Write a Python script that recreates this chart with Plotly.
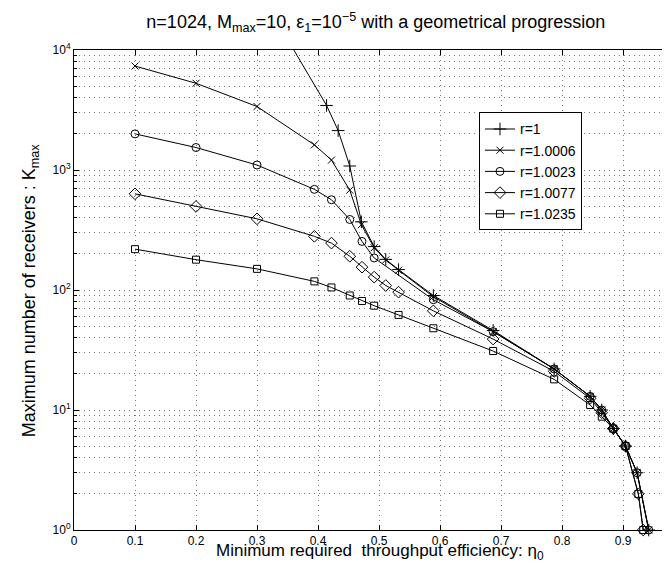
import plotly.graph_objects as go

# ---- data ----
eta_r1 = [0.30, 0.414, 0.433, 0.452, 0.471, 0.492, 0.511, 0.532, 0.589, 0.687, 0.787, 0.846, 0.865, 0.884, 0.904, 0.923, 0.942]
kmax_r1 = [33000, 3450, 2130, 1080, 370, 230, 180, 148, 90, 46, 22, 13, 10, 7, 5, 3, 1]

eta_r2 = [0.1, 0.2, 0.3, 0.394, 0.422, 0.452, 0.471, 0.492, 0.511, 0.532, 0.589, 0.687, 0.787, 0.846, 0.865, 0.884, 0.904, 0.923, 0.942]
kmax_r2 = [7350, 5280, 3380, 1620, 1210, 680, 350, 225, 178, 146, 88, 45, 22, 13, 10, 7, 5, 3, 1]

eta_r3 = [0.1, 0.2, 0.3, 0.394, 0.422, 0.452, 0.472, 0.492, 0.589, 0.687, 0.787, 0.846, 0.865, 0.884, 0.904, 0.923, 0.942]
kmax_r3 = [2000, 1540, 1100, 690, 565, 387, 254, 185, 83, 45, 22, 13, 10, 7, 5, 3, 1]

eta_r4 = [0.1, 0.2, 0.3, 0.394, 0.422, 0.452, 0.472, 0.492, 0.511, 0.532, 0.589, 0.687, 0.787, 0.846, 0.865, 0.884, 0.904, 0.925, 0.933]
kmax_r4 = [633, 497, 392, 280, 246, 191, 155, 128, 109, 96, 67, 39, 21, 12.5, 9.5, 7, 5, 2, 1]

eta_r5 = [0.1, 0.2, 0.3, 0.394, 0.422, 0.452, 0.472, 0.492, 0.532, 0.589, 0.687, 0.787, 0.846, 0.865, 0.884, 0.904, 0.925, 0.933]
kmax_r5 = [219, 179, 150, 118, 105, 90, 81, 74, 62, 48, 31, 18, 11, 8.8, 7, 5, 2, 1]

series_names = ["r=1", "r=1.0006", "r=1.0023", "r=1.0077", "r=1.0235"]
series_x = [eta_r1, eta_r2, eta_r3, eta_r4, eta_r5]
series_y = [kmax_r1, kmax_r2, kmax_r3, kmax_r4, kmax_r5]
symbols = ["cross-thin-open", "x-thin-open", "circle-open", "diamond-open", "square-open"]
sizes = [9, 7, 8, 9, 7]

y_tickvals = [1, 10, 100, 1000, 10000]
y_ticktext = ["10<sup>0</sup>", "10<sup>1</sup>", "10<sup>2</sup>", "10<sup>3</sup>", "10<sup>4</sup>"]
y_minor = [m * d for d in [1, 10, 100, 1000] for m in range(2, 10)]

FONT = "Liberation Sans, Arial, Helvetica, sans-serif"
GRID = dict(gridcolor="#777777", gridwidth=1, griddash="1px,4px")

fig = go.Figure()
for name, xs, ys, sym, sz in zip(series_names, series_x, series_y, symbols, sizes):
    fig.add_trace(go.Scatter(
        x=xs, y=ys, name=name, mode="lines+markers",
        line=dict(color="black", width=1),
        marker=dict(symbol=sym, size=sz, color="black", line=dict(color="black", width=1)),
        cliponaxis=False,
    ))

fig.update_layout(
    width=670, height=563,
    margin=dict(l=66, r=0, t=42, b=41),
    paper_bgcolor="white", plot_bgcolor="white",
    font=dict(family=FONT, color="black", size=12),
    title=dict(
        text="n=1024, M<sub>max</sub>=10, ε<sub>1</sub>=10<sup>−5</sup> with a geometrical progression",
        x=0.549, xanchor="center", y=0.975, yanchor="middle",
        font=dict(size=18, family=FONT, color="black"),
    ),
    showlegend=True,
    legend=dict(
        x=0.6705, y=0.87, xanchor="left", yanchor="top",
        bgcolor="white", bordercolor="black", borderwidth=1,
        font=dict(size=14, family=FONT, color="black"),
        tracegroupgap=0,
    ),
    annotations=[
        dict(text="Minimum required&nbsp; throughput efficiency: η<sub>0</sub>",
             xref="paper", yref="paper", x=0.507, y=-0.072,
             xanchor="center", yanchor="bottom", showarrow=False,
             font=dict(size=17, family=FONT, color="black")),
        dict(text="Maximum number of receivers : K<sub>max</sub>",
             xref="paper", yref="paper", x=-0.0724, y=0.5, textangle=-90,
             xanchor="center", yanchor="middle", showarrow=False,
             font=dict(size=18, family=FONT, color="black")),
    ],
)

fig.update_xaxes(
    range=[0, 0.99], tick0=0, dtick=0.1, automargin=False,
    showline=True, linecolor="black", linewidth=1, mirror="ticks",
    ticks="inside", ticklen=5, tickcolor="black",
    showgrid=True, zeroline=False, **GRID,
    tickfont=dict(size=12),
)
fig.update_yaxes(
    type="log", range=[0, 4], automargin=False,
    tickmode="array", tickvals=y_tickvals, ticktext=y_ticktext,
    showline=True, linecolor="black", linewidth=1, mirror="ticks",
    ticks="inside", ticklen=5, tickcolor="black",
    showgrid=True, zeroline=False, **GRID,
    tickfont=dict(size=12),
    minor=dict(tickmode="array", tickvals=y_minor, ticks="inside", ticklen=3,
               tickcolor="black", showgrid=True, **GRID),
)

fig.write_html("out.html")
